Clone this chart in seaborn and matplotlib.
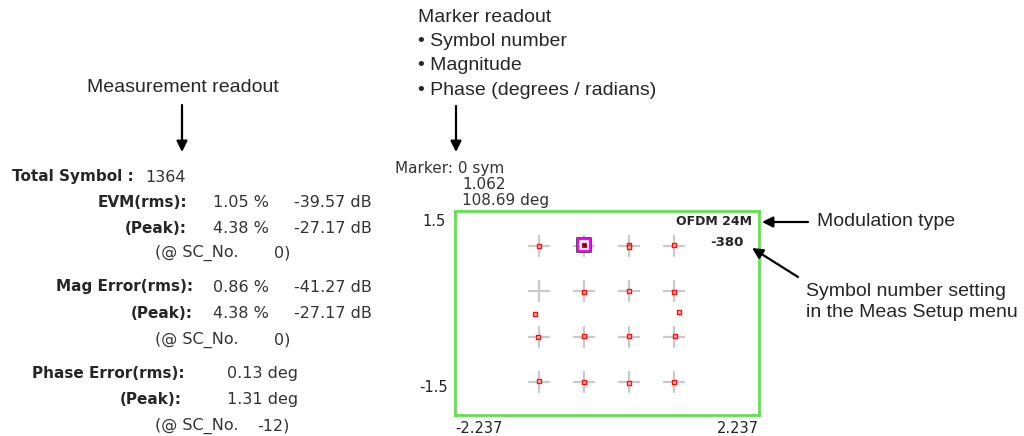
import matplotlib
matplotlib.use('Agg')
import matplotlib.pyplot as plt
import seaborn as sns
import pandas as pd

# ideal constellation grid (I and Q levels read from the display)
GRID_I = [-1.006, -0.338, 0.324, 0.986]
GRID_Q = [0.990, 0.319, -0.348, -1.010]
# measured symbols (I, Q)
SYM_I = [-0.996, -0.334, 0.329, 0.329, 0.991,
         -0.334, 0.329, 0.991,
         -1.055, 1.060,
         -1.011, -0.334, 0.324, 0.996,
         -1.006, -0.338, 0.324, 0.991]
SYM_Q = [0.990, 0.995, 1.000, 0.975, 0.995,
         0.314, 0.324, 0.314,
         -0.010, 0.010,
         -0.348, -0.343, -0.338, -0.343,
         -1.005, -1.015, -1.025, -1.010]
MARKER_I = [-0.334]
MARKER_Q = [0.995]
X_LIM = [-2.237, 2.237]
Y_LIM = [-1.5, 1.5]

# measurement readout rows: label, value 1, value 2
READ_LABELS = ['EVM(rms):', '(Peak):', 'Mag Error(rms):', '(Peak):',
               'Phase Error(rms):', '(Peak):']
READ_VAL1 = ['1.05 %', '4.38 %', '0.86 %', '4.38 %', '0.13 deg', '1.31 deg']
READ_VAL2 = ['-39.57 dB', '-27.17 dB', '-41.27 dB', '-27.17 dB', '', '']
SC_NO = ['0', '0', '-12']
TOTAL_SYMBOL = '1364'
MARKER_READOUT = ['Marker: 0 sym', '1.062', '108.69 deg']
MOD_TYPE = 'OFDM 24M'
SYM_SETTING = '-380'

W, H = 1024, 436
LBL = 11
VAL = 11.5
CALL = 14
NARROW = ['Liberation Sans Narrow', 'Liberation Sans', 'DejaVu Sans']

sns.set_theme(style='white')
plt.rcParams['font.family'] = ['DejaVu Sans']

fig = plt.figure(figsize=(W / 100, H / 100), dpi=100)
ax = fig.add_axes([455 / W, 1 - 415 / H, 304 / W, 204 / H])


def ftext(x, y, s, **kw):
    """text placed in figure pixels, y measured from the top"""
    fig.text(x / W, 1 - y / H, s, va='center', **kw)


def farrow(x0, y0, x1, y1):
    ax.annotate('', xy=(x1, H - y1), xycoords='figure pixels',
                xytext=(x0, H - y0), textcoords='figure pixels',
                arrowprops=dict(arrowstyle='-|>', color='black', lw=1.6,
                                mutation_scale=16, shrinkA=0, shrinkB=0),
                annotation_clip=False)


# grid crosses
grid = pd.DataFrame([(i, q) for q in GRID_Q for i in GRID_I],
                    columns=['I', 'Q'])
sns.scatterplot(data=grid, x='I', y='Q', marker='+', s=240,
                color='#cacaca', linewidth=1.6, ax=ax, zorder=1)

# marker box
mk = pd.DataFrame({'I': MARKER_I, 'Q': MARKER_Q})
sns.scatterplot(data=mk, x='I', y='Q', marker='s', s=110,
                facecolor='white', edgecolor='#303030', linewidth=1.2,
                ax=ax, zorder=2)
sns.scatterplot(data=mk, x='I', y='Q', marker='s', s=75,
                facecolor='none', edgecolor='#ff00ff', linewidth=1.6,
                ax=ax, zorder=3)

# measured symbols
sym = pd.DataFrame({'I': SYM_I, 'Q': SYM_Q})
sns.scatterplot(data=sym, x='I', y='Q', marker='s', s=8,
                facecolor='#ffc0c0', edgecolor='#ff1010', linewidth=1.0,
                ax=ax, zorder=4)
sns.scatterplot(data=mk, x='I', y='Q', marker='o', s=10,
                color='#5a1040', linewidth=0, ax=ax, zorder=5)

ax.set_xlim(X_LIM)
ax.set_ylim(Y_LIM)
ax.set_xlabel('')
ax.set_ylabel('')
ax.set_xticks(X_LIM)
ax.set_xticklabels(['-2.237', '2.237'], fontsize=10.5, color='#222222')
ax.get_xticklabels()[0].set_ha('left')
ax.get_xticklabels()[1].set_ha('right')
ax.set_yticks([])
ax.tick_params(axis='x', length=0, pad=4)
for sp in ax.spines.values():
    sp.set_color('#66dd55')
    sp.set_linewidth(2)

# y labels of the display
ftext(446, 222, '1.5', ha='right', fontsize=10.5, color='#222222')
ftext(448, 387, '-1.5', ha='right', fontsize=10.5, color='#222222')

# labels inside the display
ftext(752, 221, MOD_TYPE, ha='right', fontsize=9, fontweight='bold')
ftext(744, 242, SYM_SETTING, ha='right', fontsize=9.5, fontweight='bold')

# marker readout
ftext(395, 168, MARKER_READOUT[0], fontsize=11, color='#333333')
ftext(462, 184, MARKER_READOUT[1], fontsize=11, color='#333333')
ftext(462, 200, MARKER_READOUT[2], fontsize=11, color='#333333')

# measurement readout
ftext(12, 177, 'Total Symbol :', fontsize=LBL, fontweight='bold')
ftext(145, 177, TOTAL_SYMBOL, fontsize=VAL, color='#333333')
rows_y = [202, 228, 287, 313, 373, 399]
label_right = [187, 187, 193, 193, 185, 182]
for k in range(len(READ_LABELS)):
    y = rows_y[k]
    ftext(label_right[k], y, READ_LABELS[k], ha='right', fontsize=LBL,
          fontweight='bold')
    if READ_VAL2[k]:
        ftext(269, y, READ_VAL1[k], ha='right', fontsize=VAL,
              color='#333333')
        ftext(372, y, READ_VAL2[k], ha='right', fontsize=VAL,
              color='#333333')
    else:
        ftext(298, y, READ_VAL1[k], ha='right', fontsize=VAL,
              color='#333333')
for y, sc in zip([253, 340, 426], SC_NO):
    ftext(155, y, '(@ SC_No.', fontsize=VAL, color='#333333')
    ftext(290, y, sc + ')', ha='right', fontsize=VAL, color='#333333')

# callouts
ftext(183, 87, 'Measurement readout', ha='center', fontsize=CALL,
      family=NARROW)
farrow(182, 105, 182, 152)
marker_lines = ['Marker readout', '\u2022 Symbol number', '\u2022 Magnitude',
                '\u2022 Phase (degrees / radians)']
for k, s in enumerate(marker_lines):
    ftext(418, 17 + 24.5 * k, s, fontsize=CALL, family=NARROW)
farrow(456, 106, 456, 152)
ftext(817, 222, 'Modulation type', fontsize=CALL, family=NARROW)
farrow(808, 222, 762, 222)
ftext(806, 292, 'Symbol number setting', fontsize=CALL, family=NARROW)
ftext(806, 312, 'in the Meas Setup menu', fontsize=CALL, family=NARROW)
farrow(798, 277, 752, 248)

fig.savefig('out.png', dpi=100, facecolor='white')
